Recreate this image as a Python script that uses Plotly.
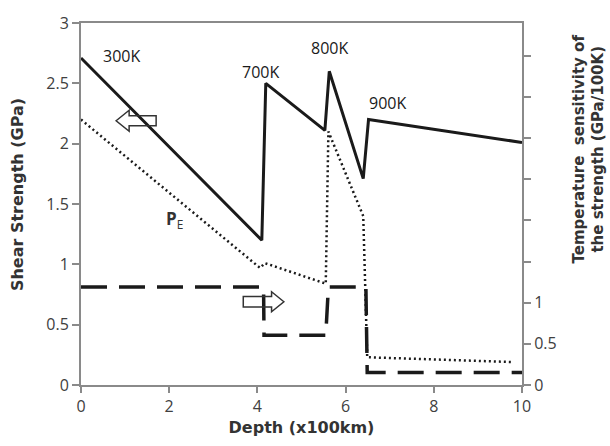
import plotly.graph_objects as go

# ---- data ----
strength_x = [0, 4.10, 4.19, 5.53, 5.63, 6.40, 6.52, 10.0]
strength_y = [2.71, 1.20, 2.50, 2.11, 2.60, 1.71, 2.20, 2.01]

pe_x = [0, 4.06, 4.17, 5.55, 5.61, 6.25, 6.40, 6.49, 9.80]
pe_y = [2.20, 0.97, 1.01, 0.84, 2.10, 1.52, 1.40, 0.23, 0.19]

sens_x = [0, 4.14, 4.15, 5.55, 5.61, 6.46, 6.49, 10.0]
sens_y = [1.19, 1.19, 0.605, 0.605, 1.19, 1.19, 0.152, 0.152]

temp_labels = ["300K", "700K", "800K", "900K"]
temp_x = [0.92, 4.08, 5.64, 6.94]
temp_y = [2.73, 2.59, 2.79, 2.34]

x_ticks = [0, 2, 4, 6, 8, 10]
y_ticks = [0, 0.5, 1, 1.5, 2, 2.5, 3]
y2_ticks = [0, 0.5, 1]
y2_minor_ticks = [1.5, 2, 2.5, 3, 3.5, 4]

INK = "#1a1a1a"
AXIS = "#8a8a8a"
TICKFONT = dict(family="Open Sans", size=16, color="#404040")
TITLEFONT = dict(family="DejaVu Sans", size=16, color="#333333")

fig = go.Figure()
fig.add_trace(go.Scatter(x=strength_x, y=strength_y, mode="lines",
                         line=dict(color=INK, width=3), showlegend=False))
fig.add_trace(go.Scatter(x=pe_x, y=pe_y, mode="lines",
                         line=dict(color=INK, width=2.5, dash="2px,3px"), showlegend=False))
fig.add_trace(go.Scatter(x=sens_x, y=sens_y, mode="lines", yaxis="y2",
                         line=dict(color=INK, width=3.5, dash="26px,12px"), showlegend=False))

annotations = []
for t, xx, yy in zip(temp_labels, temp_x, temp_y):
    annotations.append(dict(x=xx, y=yy, xref="x", yref="y", text=t, showarrow=False,
                            font=dict(family="Open Sans", size=16, color=INK)))
annotations.append(dict(x=2.12, y=1.37, xref="x", yref="y", text="<b>P</b><sub>E</sub>",
                        showarrow=False, font=dict(family="Open Sans", size=17, color="#333333")))
annotations.append(dict(x=0, y=0.526, xref="paper", yref="paper", xshift=-63.5,
                        xanchor="center", yanchor="middle",
                        text="<b>Shear Strength (GPa)</b>", textangle=-90, showarrow=False,
                        font=TITLEFONT))
annotations.append(dict(x=1, y=0.652, xref="paper", yref="paper", xshift=66.5,
                        xanchor="center", yanchor="middle",
                        text="<b>Temperature  sensitivity of<br>the strength (GPa/100K)</b>",
                        textangle=-90, showarrow=False,
                        font=dict(family="DejaVu Sans", size=15, color="#333333")))

shapes = [
    dict(type="path", xref="x", yref="y", xsizemode="pixel", ysizemode="pixel",
         xanchor=1.25, yanchor=2.19,
         path="M -20,0 L -7,10.5 L -7,5 L 20,5 L 20,-5 L -7,-5 L -7,-10.5 Z",
         line=dict(color="#333333", width=1.5)),
    dict(type="path", xref="x", yref="y", xsizemode="pixel", ysizemode="pixel",
         xanchor=4.14, yanchor=0.69,
         path="M 20.3,0 L 8,10 L 8,5.3 L -20.3,5.3 L -20.3,-5.3 L 8,-5.3 L 8,-10 Z",
         line=dict(color="#333333", width=1.5)),
]

fig.update_layout(
    width=610, height=446,
    margin=dict(l=81, r=88, t=18, b=59),
    paper_bgcolor="white", plot_bgcolor="white",
    xaxis=dict(range=[0, 10], tickvals=x_ticks, showgrid=False, zeroline=False,
               showline=True, linecolor=AXIS, linewidth=2, mirror=True,
               ticks="outside", ticklen=6, tickcolor=AXIS, tickwidth=1.5,
               tickfont=TICKFONT,
               title=dict(text="<b>Depth (x100km)</b>", font=TITLEFONT, standoff=6)),
    yaxis=dict(range=[0, 3], tickvals=y_ticks, showgrid=False, zeroline=False,
               showline=True, linecolor=AXIS, linewidth=2,
               ticks="outside", ticklen=7, tickcolor=AXIS, tickwidth=1.5,
               tickfont=TICKFONT),
    yaxis2=dict(range=[0, 4.4], overlaying="y", side="right", tickvals=y2_ticks,
                showgrid=False, zeroline=False,
                showline=True, linecolor=AXIS, linewidth=2,
                ticks="outside", ticklen=7, tickcolor=AXIS, tickwidth=1.5,
                tickfont=TICKFONT,
                minor=dict(tickvals=y2_minor_ticks, ticks="outside", ticklen=7,
                           tickcolor=AXIS, tickwidth=1.5, showgrid=False)),
    annotations=annotations,
    shapes=shapes,
)

fig.write_html("out.html")
